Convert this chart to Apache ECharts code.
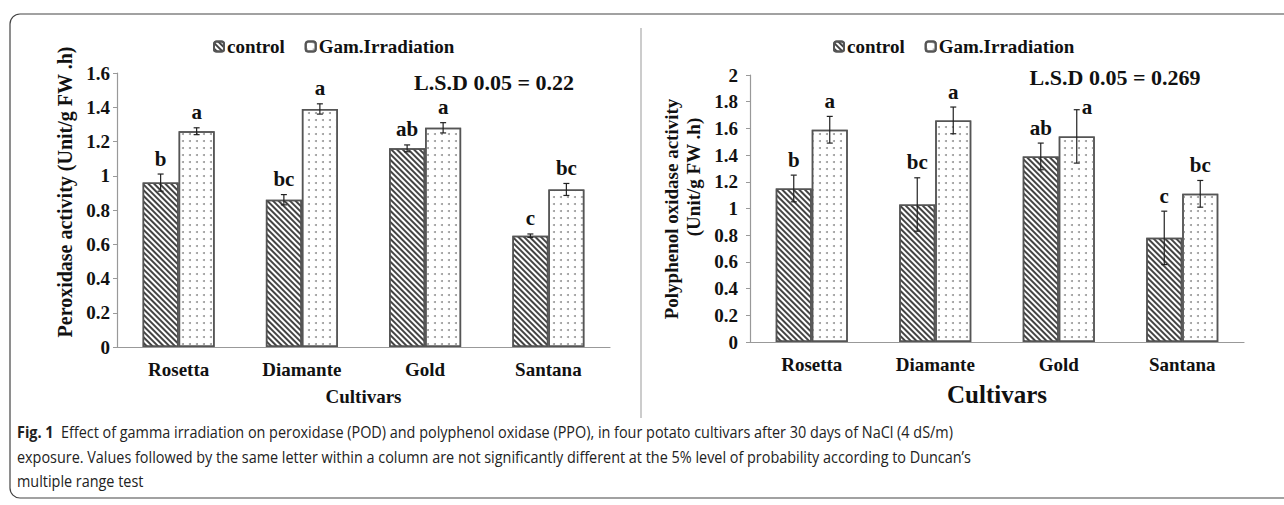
<!DOCTYPE html>
<html>
<head>
<meta charset="utf-8">
<script src="https://cdn.jsdelivr.net/npm/echarts@6/dist/echarts.min.js"></script>
<style>
html, body { margin: 0; padding: 0; background: #fff; }
#chart { position: absolute; left: 0; top: 0; width: 1284px; height: 505px; }
#caption {
    position: absolute; left: 17px; top: 420px; width: 1400px;
    font-family: "Open Sans", "Noto Sans", sans-serif; font-size: 16px; line-height: 24.5px; color: #222;
    transform: scaleX(0.9); transform-origin: 0 0;
}
#caption b { font-weight: 700; }
</style>
</head>
<body>
<div id="chart"></div>
<div id="caption"><b>Fig. 1</b>&nbsp; Effect of gamma irradiation on peroxidase (POD) and polyphenol oxidase (PPO), in four potato cultivars after 30 days of NaCl (4 dS/m)<br>exposure. Values followed by the same letter within a column are not significantly different at the 5% level of probability according to Duncan’s<br>multiple range test</div>
<script>
const cultivars = ['Rosetta', 'Diamante', 'Gold', 'Santana'];
const seriesNames = ['control', 'Gam.Irradiation'];

// peroxidase (POD), Unit/g FW .h
const podControl = [0.96, 0.86, 1.16, 0.65];
const podControlErr = [0.05, 0.03, 0.02, 0.01];
const podGam = [1.26, 1.39, 1.28, 0.92];
const podGamErr = [0.02, 0.03, 0.03, 0.035];
const podControlLetters = ['b', 'bc', 'ab', 'c'];
const podGamLetters = ['a', 'a', 'a', 'bc'];

// polyphenol oxidase (PPO), Unit/g FW .h
const ppoControl = [1.15, 1.03, 1.39, 0.78];
const ppoControlErr = [0.1, 0.2, 0.1, 0.2];
const ppoGam = [1.59, 1.66, 1.54, 1.11];
const ppoGamErr = [0.1, 0.1, 0.2, 0.1];
const ppoControlLetters = ['b', 'bc', 'ab', 'c'];
const ppoGamLetters = ['a', 'a', 'a', 'bc'];

const podMax = 1.6, ppoMax = 2, yStep = 0.2;

const serif = '"Liberation Serif", "Times New Roman", serif';
const BAR_W = 36;

const hatch = {
    symbol: 'rect', symbolSize: 1, color: '#444',
    dashArrayX: [1, 0], dashArrayY: [1.2, 1.6], rotation: Math.PI / 4
};
const dots = {
    symbol: 'circle', symbolSize: 1, color: '#999',
    dashArrayX: [1.4, 4.6], dashArrayY: [1.4, 4.6], rotation: 0
};

// LSD boxes: letters that would run into them go beside the cap
const lsdLeft = { x1: 410, x2: 580, y2: 94 };
const lsdRight = { x1: 1030, x2: 1200, y2: 88 };

function bars(idx, name, values, decal) {
    return {
        name: name, type: 'bar', xAxisIndex: idx, yAxisIndex: idx,
        barWidth: BAR_W, barGap: 0,
        itemStyle: { color: '#fff', borderColor: '#555', borderWidth: 1.5, decal: decal },
        data: values
    };
}

function errorBars(idx, values, errs, letters, offset, avoid) {
    return {
        type: 'custom', xAxisIndex: idx, yAxisIndex: idx, z: 10,
        data: values.map((v, i) => [i, v, errs[i]]),
        renderItem: function (params, api) {
            const i = api.value(0), v = api.value(1), e = api.value(2);
            const top = api.coord([i, v + e]);
            const bot = api.coord([i, v - e]);
            const x = top[0] + offset;
            const st = { stroke: '#222', lineWidth: 1.2 };
            const ty = top[1] - 5;
            const beside = x > avoid.x1 && x < avoid.x2 && ty - 21 < avoid.y2 - 3;
            const label = beside
                ? { x: x + 5, y: top[1] - 3, align: 'left', verticalAlign: 'middle' }
                : { x: x, y: ty, align: 'center', verticalAlign: 'bottom' };
            return {
                type: 'group',
                children: [
                    { type: 'line', shape: { x1: x, y1: top[1], x2: x, y2: bot[1] }, style: st },
                    { type: 'line', shape: { x1: x - 3, y1: top[1], x2: x + 3, y2: top[1] }, style: st },
                    { type: 'line', shape: { x1: x - 3, y1: bot[1], x2: x + 3, y2: bot[1] }, style: st },
                    {
                        type: 'text', x: label.x, y: label.y,
                        style: {
                            text: letters[params.dataIndex], fill: '#111',
                            font: 'bold 21px ' + serif, align: label.align, verticalAlign: label.verticalAlign
                        }
                    }
                ]
            };
        }
    };
}

const axisText = { fontFamily: serif, fontWeight: 'bold', color: '#111' };

function xAxis(idx, nameSize) {
    return {
        type: 'category', gridIndex: idx, data: cultivars,
        name: 'Cultivars', nameLocation: 'middle', nameGap: 40,
        nameTextStyle: Object.assign({ fontSize: nameSize }, axisText),
        axisLine: { lineStyle: { color: '#999', width: 1.2 } },
        axisTick: { length: 5, lineStyle: { color: '#999' } },
        axisLabel: Object.assign({ fontSize: 19, margin: 13 }, axisText)
    };
}

function yAxis(idx, max, margin) {
    return {
        type: 'value', gridIndex: idx, min: 0, max: max, interval: yStep,
        splitLine: { show: false },
        axisLine: { show: true, lineStyle: { color: '#999', width: 1.2 } },
        axisTick: { show: true, length: 4, lineStyle: { color: '#999' } },
        axisLabel: Object.assign({ fontSize: 19, margin: margin }, axisText)
    };
}

function legend(left) {
    return {
        data: seriesNames, left: left, top: 32, itemWidth: 10, itemHeight: 10,
        itemGap: 20, selectedMode: false,
        textStyle: { fontFamily: serif, fontWeight: 'bold', fontSize: 19, color: '#111', padding: [0, 0, 0, -2] }
    };
}

function vText(x, y, text, size) {
    return {
        type: 'text', x: x, y: y, rotation: Math.PI / 2,
        style: { text: text, font: 'bold ' + size + 'px ' + serif, fill: '#111', align: 'center', verticalAlign: 'middle' }
    };
}

const chart = echarts.init(document.getElementById('chart'), null, { renderer: 'svg' });
chart.setOption({
    animation: false,
    backgroundColor: '#fff',
    legend: [legend(208), legend(828)],
    grid: [
        { left: 117, top: 73, right: 674, bottom: 158 },
        { left: 750, top: 75, right: 40, bottom: 163 }
    ],
    xAxis: [xAxis(0, 19), xAxis(1, 25)],
    yAxis: [yAxis(0, podMax, 7), yAxis(1, ppoMax, 12)],
    graphic: [
        { type: 'rect', shape: { x: 10, y: 14, width: 1300, height: 484, r: 10 },
          style: { fill: 'none', stroke: '#444', lineWidth: 1.2 }, silent: true },
        { type: 'line', shape: { x1: 641, y1: 28, x2: 641, y2: 418 },
          style: { stroke: '#999', lineWidth: 1 }, silent: true },
        vText(65, 192, 'Peroxidase activity (Unit/g FW .h)', 20),
        vText(671, 209, 'Polyphenol oxidase activity', 19),
        vText(693, 177, '(Unit/g FW .h)', 19),
        { type: 'text', x: 494, y: 82, style: { text: 'L.S.D 0.05 = 0.22', font: 'bold 22px ' + serif,
          fill: '#111', align: 'center', verticalAlign: 'middle' } },
        { type: 'text', x: 1115, y: 77, style: { text: 'L.S.D 0.05 = 0.269', font: 'bold 22px ' + serif,
          fill: '#111', align: 'center', verticalAlign: 'middle' } }
    ],
    series: [
        bars(0, seriesNames[0], podControl, hatch),
        bars(0, seriesNames[1], podGam, dots),
        errorBars(0, podControl, podControlErr, podControlLetters, -BAR_W / 2, lsdLeft),
        errorBars(0, podGam, podGamErr, podGamLetters, BAR_W / 2, lsdLeft),
        bars(1, seriesNames[0], ppoControl, hatch),
        bars(1, seriesNames[1], ppoGam, dots),
        errorBars(1, ppoControl, ppoControlErr, ppoControlLetters, -BAR_W / 2, lsdRight),
        errorBars(1, ppoGam, ppoGamErr, ppoGamLetters, BAR_W / 2, lsdRight)
    ]
});
</script>
</body>
</html>
